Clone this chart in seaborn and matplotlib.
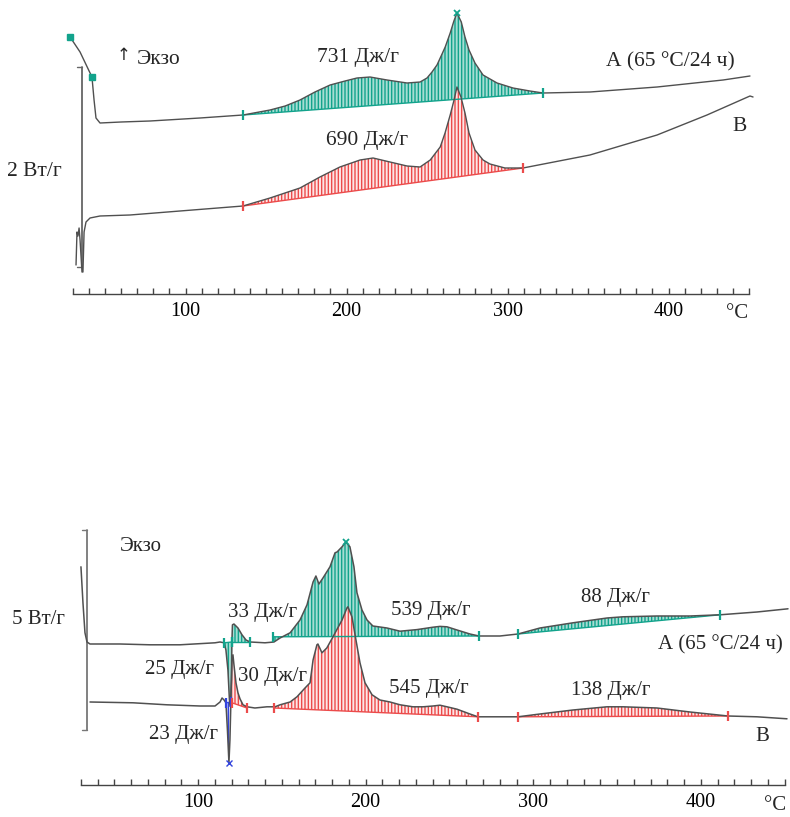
import numpy as np
import pandas as pd
import matplotlib
matplotlib.use("Agg")
import matplotlib.pyplot as plt
import seaborn as sns

# ---------------- data (temperature °C, heat flow W/g with arbitrary offsets) -------------
# Top panel, curve A (65 °C / 24 h)
top_a_t = [28.3, 34.5, 41.9, 43.2, 44.4, 46.9, 60.0, 78.0, 109.0, 135.7, 152.5, 161.9,
           171.1, 180.4, 189.8, 199.1, 206.5, 214.6, 225.2, 237.6, 245.7, 250.0, 253.1,
           256.2, 258.2, 261.3, 264.4, 266.7, 268.6, 271.3, 273.6, 276.1, 279.8, 284.8,
           293.5, 303.4, 313.9, 322.1, 351.2, 392.9, 433.9, 450.6]
top_a_q = [2.63, 2.48, 2.23, 2.00, 1.82, 1.77, 1.78, 1.79, 1.82, 1.85, 1.90, 1.94,
           2.00, 2.08, 2.15, 2.19, 2.22, 2.23, 2.20, 2.17, 2.18, 2.22, 2.28,
           2.35, 2.42, 2.53, 2.67, 2.79, 2.87, 2.78, 2.63, 2.50, 2.37, 2.25,
           2.17, 2.12, 2.09, 2.07, 2.08, 2.13, 2.20, 2.24]
# Top panel, curve B
top_b_t = [32.0, 32.6, 33.2, 33.9, 34.5, 35.7, 36.3, 37.0, 38.2, 40.7, 46.9, 65.5, 96.6,
           135.7, 152.5, 171.1, 183.5, 195.9, 208.4, 216.5, 227.0, 237.6, 245.7, 252.0,
           258.2, 261.2, 264.4, 266.8, 268.6, 271.1, 273.6, 276.1, 279.8, 284.8, 289.1,
           298.4, 309.6, 351.2, 392.9, 423.9, 450.6, 452.5]
top_b_q = [0.35, 0.68, 0.64, 0.72, 0.60, 0.28, 0.28, 0.68, 0.78, 0.82, 0.84, 0.85, 0.89,
           0.94, 1.02, 1.12, 1.23, 1.33, 1.40, 1.42, 1.38, 1.34, 1.33, 1.40,
           1.53, 1.67, 1.85, 2.00, 2.13, 2.03, 1.87, 1.67, 1.50, 1.40, 1.36,
           1.32, 1.32, 1.45, 1.65, 1.85, 2.04, 2.03]
# integration limits, top panel
top_a_lim_t, top_a_lim_q = [135.7, 322.1], [1.85, 2.07]     # 731 J/g
top_b_lim_t, top_b_lim_q = [135.7, 309.6], [0.94, 1.32]     # 690 J/g

# Bottom panel, curve A (65 °C / 24 h)
bot_a_t = [30.1, 31.3, 32.5, 33.7, 35.5, 53.4, 71.3, 89.2, 110.1, 113.1, 115.5, 116.6,
           117.8, 118.7, 119.3, 119.9, 120.2, 120.5, 121.4, 122.6, 123.8, 126.2, 128.6,
           131.0, 139.9, 145.3, 148.9, 154.9, 160.8, 165.0, 168.6, 170.3, 172.1, 174.5,
           178.7, 181.7, 182.9, 185.9, 188.2, 190.6, 193.0, 194.8, 197.8, 200.8, 204.3,
           212.7, 220.5, 230.6, 240.2, 244.3, 248.5, 254.5, 262.2, 267.6, 280.1, 290.9,
           304.0, 323.7, 344.0, 353.5, 373.8, 393.5, 411.4, 433.5, 452.0]
bot_a_q = [5.83, 4.93, 4.18, 3.95, 3.90, 3.90, 3.88, 3.88, 3.93, 3.95, 3.93, 3.75,
           3.25, 2.50, 2.33, 3.00, 4.00, 4.38, 4.40, 4.35, 4.30, 4.13, 4.00,
           3.95, 3.93, 3.95, 4.05, 4.18, 4.50, 4.88, 5.45, 5.60, 5.40, 5.55,
           5.83, 6.18, 6.20, 6.33, 6.45, 6.33, 5.83, 5.18, 4.75, 4.50, 4.35,
           4.30, 4.22, 4.26, 4.32, 4.34, 4.33, 4.25, 4.15, 4.10, 4.10, 4.15,
           4.30, 4.43, 4.55, 4.58, 4.60, 4.60, 4.63, 4.70, 4.78]
# Bottom panel, curve B
bot_b_t = [35.5, 61.2, 81.4, 101.1, 110.1, 113.1, 114.3, 115.5, 116.6, 117.5, 118.4,
           119.0, 119.6, 120.2, 120.8, 121.4, 122.6, 123.8, 125.0, 126.8, 129.2, 133.9,
           141.1, 145.9, 148.9, 154.9, 159.0, 163.8, 166.8, 168.6, 170.9, 171.5, 173.9,
           176.8, 180.5, 185.9, 188.8, 189.4, 191.8, 194.2, 196.6, 199.6, 203.8, 208.5,
           214.5, 220.5, 228.2, 234.2, 240.2, 244.3, 248.5, 254.5, 262.2, 267.0, 280.1,
           290.9, 304.0, 323.7, 344.0, 353.5, 373.8, 393.5, 416.2, 433.5, 451.4]
bot_b_q = [2.45, 2.43, 2.38, 2.35, 2.35, 2.45, 2.55, 2.50, 2.43, 1.75, 0.93,
           1.50, 2.50, 3.50, 3.63, 3.38, 2.93, 2.68, 2.53, 2.38, 2.33, 2.30,
           2.33, 2.33, 2.38, 2.45, 2.58, 2.80, 2.93, 3.50, 3.88, 3.90, 3.68,
           3.80, 4.08, 4.50, 4.80, 4.83, 4.58, 4.00, 3.43, 2.93, 2.63, 2.50,
           2.45, 2.38, 2.33, 2.33, 2.35, 2.37, 2.33, 2.27, 2.15, 2.08, 2.08,
           2.08, 2.15, 2.25, 2.33, 2.33, 2.30, 2.20, 2.10, 2.08, 2.03]
# integration limits, bottom panel
bot_a25_lim_t, bot_a25_lim_q = [115.5, 120.2], [3.93, 3.95]
bot_a33_lim_t, bot_a33_lim_q = [120.2, 131.0], [3.95, 3.95]
bot_a539_lim_t, bot_a539_lim_q = [144.7, 267.6], [4.08, 4.10]
bot_a88_lim_t, bot_a88_lim_q = [290.9, 411.4], [4.15, 4.63]
bot_b23_lim_t, bot_b23_lim_q = [116.6, 119.6], [2.43, 2.45]
bot_b30_lim_t, bot_b30_lim_q = [120.2, 129.2], [2.43, 2.30]
bot_b545_lim_t, bot_b545_lim_q = [145.3, 267.0], [2.30, 2.08]
bot_b138_lim_t, bot_b138_lim_q = [290.9, 416.2], [2.08, 2.10]

tick_values = [100, 200, 300, 400]

# ---------------- styling ----------------
sns.set_theme(style="white")
plt.rcParams["font.family"] = ["Liberation Serif", "DejaVu Serif", "DejaVu Sans"]
plt.rcParams["hatch.linewidth"] = 1.0

TEAL = "#12a38c"
TEAL_FACE = "#a7ddd3"
RED = "#ec4b4b"
RED_FACE = "#fde6e6"
BLUE = "#3344dd"
CURVE = "#505050"

fig = plt.figure(figsize=(7.9, 8.17), dpi=100)
ax1 = fig.add_axes([0.0677, 0.64015, 0.8906, 0.35985])
ax2 = fig.add_axes([0.0768, 0.03917, 0.9228, 0.33048])


def curve(ax, t, q, lw=1.0):
    df = pd.DataFrame({"T": t, "Q": q})
    sns.lineplot(data=df, x="T", y="Q", ax=ax, sort=False, estimator=None,
                 color=CURVE, lw=lw, zorder=3)


def shade(ax, t, q, lim_t, lim_q, face, col, hatch="|||||"):
    t = np.asarray(t, float)
    q = np.asarray(q, float)
    inside = (t > lim_t[0]) & (t < lim_t[1])
    xs = np.concatenate([[lim_t[0]], t[inside], [lim_t[1]]])
    ys = np.interp(xs, t, q)
    base = np.interp(xs, lim_t, lim_q)
    ax.fill_between(xs, ys, base, facecolor=face, edgecolor=col, hatch=hatch,
                    linewidth=0, zorder=1)
    ax.plot(lim_t, lim_q, color=col, lw=1.0, zorder=2)
    ax.plot(lim_t, lim_q, ls="none", marker="|", ms=7, mew=1.6, color=col, zorder=4)


def style_axis(ax, xlim, ylim):
    ax.set_xlim(*xlim)
    ax.set_ylim(*ylim)
    for s in ["left", "right", "top"]:
        ax.spines[s].set_visible(False)
    ax.spines["bottom"].set_color("#444444")
    ax.spines["bottom"].set_linewidth(1.0)
    ax.spines["bottom"].set_bounds(30, 450)
    ticks = np.arange(30, 451, 10)
    ax.set_xticks(ticks)
    ax.set_xticklabels([str(v) if v in tick_values else "" for v in ticks])
    ax.set_yticks([])
    ax.tick_params(axis="x", direction="in", length=4, width=1.0, colors="#444444",
                   labelcolor="black", labelsize=14.5, pad=6, bottom=True)
    ax.set_xlabel("")
    ax.set_ylabel("")
    ax.patch.set_alpha(0)


# ---------------- top panel ----------------
shade(ax1, top_a_t, top_a_q, top_a_lim_t, top_a_lim_q, TEAL_FACE, TEAL)
shade(ax1, top_b_t, top_b_q, top_b_lim_t, top_b_lim_q, RED_FACE, RED)
curve(ax1, top_a_t, top_a_q)
curve(ax1, top_b_t, top_b_q)
ax1.plot([top_a_t[0], top_a_t[2]], [top_a_q[0], top_a_q[2]], ls="none", marker="s",
         ms=4, color=TEAL, zorder=4)
ax1.plot([top_a_t[28]], [top_a_q[28]], ls="none", marker="x", ms=5, mew=1.3,
         color=TEAL, zorder=4)
# scale bar 2 W/g
ax1.plot([35.7, 35.7], [0.33, 2.33], color="#666666", lw=1.3, zorder=2)
ax1.plot([32.6, 35.7], [2.33, 2.33], color="#666666", lw=1.0, zorder=2)
ax1.plot([32.6, 35.7], [0.33, 0.33], color="#666666", lw=1.0, zorder=2)
style_axis(ax1, (18, 455), (0.06, 3.0))

fs = 15.5
ax1.text(23.3, 1.28, "2 Вт/г", ha="right", va="center", fontsize=fs)
ax1.text(61.5, 2.45, "↑", ha="center", va="center", fontsize=12,
         family=["DejaVu Sans"])
ax1.text(69.5, 2.40, "Экзо", ha="left", va="center", fontsize=fs)
ax1.text(207.1, 2.42, "731 Дж/г", ha="center", va="center", fontsize=fs)
ax1.text(212.7, 1.59, "690 Дж/г", ha="center", va="center", fontsize=fs)
ax1.text(361.2, 2.38, "А (65 °C/24 ч)", ha="left", va="center", fontsize=fs)
ax1.text(444.4, 1.73, "В", ha="center", va="center", fontsize=fs)
ax1.text(442.5, -0.14, "°C", ha="center", va="center", fontsize=15)

# ---------------- bottom panel ----------------
shade(ax2, bot_a_t, bot_a_q, bot_a25_lim_t, bot_a25_lim_q, TEAL_FACE, TEAL)
shade(ax2, bot_a_t, bot_a_q, bot_a33_lim_t, bot_a33_lim_q, TEAL_FACE, TEAL)
shade(ax2, bot_a_t, bot_a_q, bot_a539_lim_t, bot_a539_lim_q, TEAL_FACE, TEAL)
shade(ax2, bot_a_t, bot_a_q, bot_a88_lim_t, bot_a88_lim_q, TEAL_FACE, TEAL)
shade(ax2, bot_b_t, bot_b_q, bot_b23_lim_t, bot_b23_lim_q, "#dde0ff", BLUE)
shade(ax2, bot_b_t, bot_b_q, bot_b30_lim_t, bot_b30_lim_q, RED_FACE, RED)
shade(ax2, bot_b_t, bot_b_q, bot_b545_lim_t, bot_b545_lim_q, RED_FACE, RED)
shade(ax2, bot_b_t, bot_b_q, bot_b138_lim_t, bot_b138_lim_q, RED_FACE, RED)
curve(ax2, bot_a_t, bot_a_q, lw=1.1)
curve(ax2, bot_b_t, bot_b_q, lw=1.1)
ax2.plot([bot_a_t[38]], [bot_a_q[38]], ls="none", marker="x", ms=5, mew=1.3,
         color=TEAL, zorder=4)
ax2.plot([bot_b_t[10]], [bot_b_q[10]], ls="none", marker="x", ms=4, mew=1.0,
         color=BLUE, zorder=4)
# scale bar 5 W/g
ax2.plot([33.7, 33.7], [1.75, 6.75], color="#777777", lw=1.3, zorder=2)
ax2.plot([30.7, 33.7], [6.75, 6.75], color="#777777", lw=1.0, zorder=2)
ax2.plot([30.7, 33.7], [1.75, 1.75], color="#777777", lw=1.0, zorder=2)
style_axis(ax2, (18, 453), (0.375, 7.125))

fs2 = 15
ax2.text(20.6, 4.5, "5 Вт/г", ha="right", va="center", fontsize=fs2)
ax2.text(53.4, 6.33, "Экзо", ha="left", va="center", fontsize=fs2)
ax2.text(138.7, 4.68, "33 Дж/г", ha="center", va="center", fontsize=fs2)
ax2.text(89.2, 3.25, "25 Дж/г", ha="center", va="center", fontsize=fs2)
ax2.text(144.1, 3.08, "30 Дж/г", ha="center", va="center", fontsize=fs2)
ax2.text(91.0, 1.63, "23 Дж/г", ha="center", va="center", fontsize=fs2)
ax2.text(238.9, 4.73, "539 Дж/г", ha="center", va="center", fontsize=fs2)
ax2.text(237.8, 2.78, "545 Дж/г", ha="center", va="center", fontsize=fs2)
ax2.text(348.8, 5.05, "88 Дж/г", ha="center", va="center", fontsize=fs2)
ax2.text(346.4, 2.73, "138 Дж/г", ha="center", va="center", fontsize=fs2)
ax2.text(374.4, 3.88, "А (65 °C/24 ч)", ha="left", va="center", fontsize=fs2)
ax2.text(436.4, 1.58, "В", ha="center", va="center", fontsize=fs2)
ax2.text(444.2, -0.14, "°C", ha="center", va="center", fontsize=15)

fig.savefig("out.png", dpi=100)
